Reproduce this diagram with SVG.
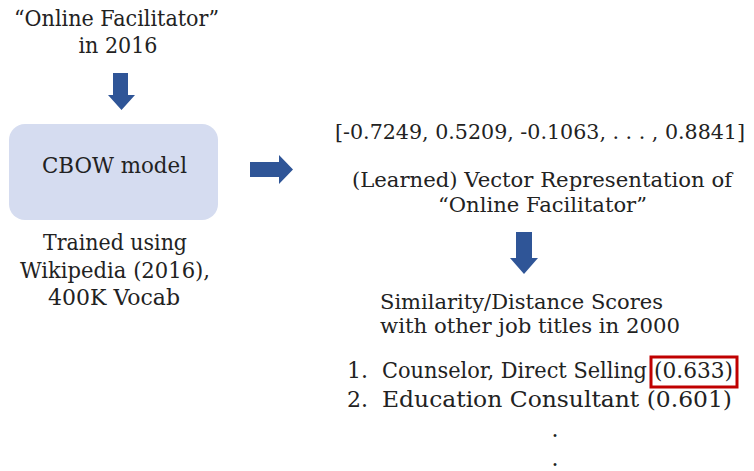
<svg xmlns="http://www.w3.org/2000/svg" width="754" height="471" viewBox="0 0 754 471" font-family="'DejaVu Serif', 'Liberation Serif', serif">
<style>
text{font-family:"DejaVu Serif","Liberation Serif","Times New Roman",serif;font-size:22px;fill:#222;}
.c{text-anchor:middle;}
.s{font-size:20.5px;}
.arrow{fill:#2F5597;}
.box{fill:#D5DCF0;}
.hl{fill:none;stroke:#C00000;stroke-width:3;}
</style>
<rect width="754" height="471" fill="#fff"/>
<g id="input">
<text class="c" x="116.5" y="26" textLength="205" lengthAdjust="spacingAndGlyphs">“Online Facilitator”</text>
<text class="c" x="118" y="53" textLength="79" lengthAdjust="spacingAndGlyphs">in 2016</text>
</g>
<g id="cbow">
<rect class="box" x="9" y="124" width="209" height="96" rx="16"/>
<text class="c" x="114.5" y="173" textLength="145" lengthAdjust="spacingAndGlyphs">CBOW model</text>
</g>
<g id="training">
<text class="c" x="115" y="250" textLength="144" lengthAdjust="spacingAndGlyphs">Trained using</text>
<text class="c" x="115" y="278" textLength="190" lengthAdjust="spacingAndGlyphs">Wikipedia (2016),</text>
<text class="c" x="114" y="305" textLength="132" lengthAdjust="spacingAndGlyphs">400K Vocab</text>
</g>
<g id="vector">
<text class="c s" x="540" y="139" textLength="410" lengthAdjust="spacingAndGlyphs">[-0.7249, 0.5209, -0.1063, . . . , 0.8841]</text>
<text class="c s" x="542" y="187" textLength="380" lengthAdjust="spacingAndGlyphs">(Learned) Vector Representation of</text>
<text class="c s" x="542.5" y="212" textLength="209" lengthAdjust="spacingAndGlyphs">“Online Facilitator”</text>
</g>
<g id="scores">
<text class="s" x="380" y="309" textLength="283" lengthAdjust="spacingAndGlyphs">Similarity/Distance Scores</text>
<text class="s" x="380" y="333" textLength="300" lengthAdjust="spacingAndGlyphs">with other job titles in 2000</text>
<text x="347" y="378">1.</text>
<text x="382" y="378" textLength="265" lengthAdjust="spacingAndGlyphs">Counselor, Direct Selling</text>
<text x="654" y="378" textLength="79" lengthAdjust="spacingAndGlyphs">(0.633)</text>
<rect class="hl" x="651" y="357" width="86" height="30"/>
<text x="347" y="407">2.</text>
<text x="382" y="407" textLength="350" lengthAdjust="spacingAndGlyphs">Education Consultant (0.601)</text>
<text class="c" x="555" y="437">.</text>
<text class="c" x="555" y="466">.</text>
</g>
<g id="connectors">
<path class="arrow" d="M113,73 H128 V95 H135 L121.5,110 L108,95 H113 Z"/>
<path class="arrow" d="M250,162 H279 V155 L293,169.5 L279,184 V177 H250 Z"/>
<path class="arrow" d="M516,232 H532 V258 H538 L524,274 L510,258 H516 Z"/>
</g>
</svg>
